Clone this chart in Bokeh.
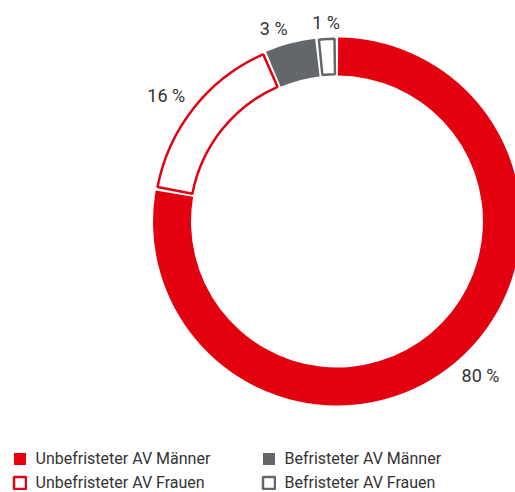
import math
from bokeh.plotting import figure
from bokeh.models import ColumnDataSource, Range1d, Legend, LegendItem
from bokeh.core.properties import value
from bokeh.embed import file_html
from bokeh.resources import INLINE

# ---- data ----
categories = ["Unbefristeter AV Männer", "Unbefristeter AV Frauen",
              "Befristeter AV Männer", "Befristeter AV Frauen"]
shares = [77.8, 15.8, 4.6, 1.8]          # angular share of each ring segment (%)
labels = ["80 %", "16 %", "3 %", "1 %"]  # printed labels
colors = ["#e3000f", "#e3000f", "#646769", "#646769"]
filled = [True, False, True, False]

FONT = "Roboto"
TEXT = "#333333"
R_OUT, R_IN = 184, 146
R_MID = (R_OUT + R_IN) / 2
GAP = 2.0
STROKE = 2.5

p = figure(width=515, height=492, title=None,
           x_range=Range1d(-336.5, 178.5), y_range=Range1d(-271, 221),
           output_backend="svg", toolbar_location=None, min_border=0,
           outline_line_color=None, x_axis_location=None, y_axis_location=None)
p.xgrid.visible = False
p.ygrid.visible = False
p.background_fill_color = "white"
p.border_fill_color = "white"

total = float(sum(shares))
cum = 0.0
renderers = []
for i, s in enumerate(shares):
    a0 = cum / total * 2 * math.pi
    a1 = (cum + s) / total * 2 * math.pi
    cum += s
    mid = (a0 + a1) / 2
    pad = (GAP / 2) / R_MID
    ro, ri = R_OUT, R_IN
    if not filled[i]:
        inset = STROKE / 2
        ro, ri = R_OUT - inset, R_IN + inset
        pad += inset / R_MID
    src = ColumnDataSource(dict(x=[0], y=[0],
                                start=[math.pi / 2 - (a0 + pad)],
                                end=[math.pi / 2 - (a1 - pad)]))
    if filled[i]:
        r = p.annular_wedge(x="x", y="y", inner_radius=ri, outer_radius=ro,
                            inner_radius_units="screen", outer_radius_units="screen",
                            start_angle="start", end_angle="end", direction="clock",
                            fill_color=colors[i], line_color=None, source=src)
    else:
        r = p.annular_wedge(x="x", y="y", inner_radius=ri, outer_radius=ro,
                            inner_radius_units="screen", outer_radius_units="screen",
                            start_angle="start", end_angle="end", direction="clock",
                            fill_color="white", line_color=colors[i],
                            line_width=STROKE, source=src)
    renderers.append(r)

    lr = R_OUT + 10
    sx, cy = math.sin(mid), math.cos(mid)
    align = "left" if sx > 0.2 else ("right" if sx < -0.2 else "center")
    if abs(cy) < 0.3:
        base, yoff = "middle", 0
    elif cy > 0:
        base, yoff = "bottom", 5
    else:
        base, yoff = "top", -5
    p.text(x=[lr * sx], y=[lr * cy], text=[labels[i]], y_offset=yoff,
           text_font=value(FONT), text_font_size="18px", text_color=TEXT,
           text_align=align, text_baseline=base)

def make_legend(idx, loc):
    return Legend(items=[LegendItem(label=categories[j], renderers=[renderers[j]]) for j in idx],
                  location=loc, orientation="vertical",
                  glyph_width=15, glyph_height=15, label_standoff=9,
                  spacing=5, padding=0, margin=0, label_height=15,
                  border_line_color=None, background_fill_alpha=0,
                  label_text_font=FONT, label_text_font_size="16px",
                  label_text_color=TEXT)

p.add_layout(make_legend([0, 1], (11.5, 0)), "center")
p.add_layout(make_legend([2, 3], (260.5, 0)), "center")

open("out.html", "w").write(file_html(p, INLINE))
